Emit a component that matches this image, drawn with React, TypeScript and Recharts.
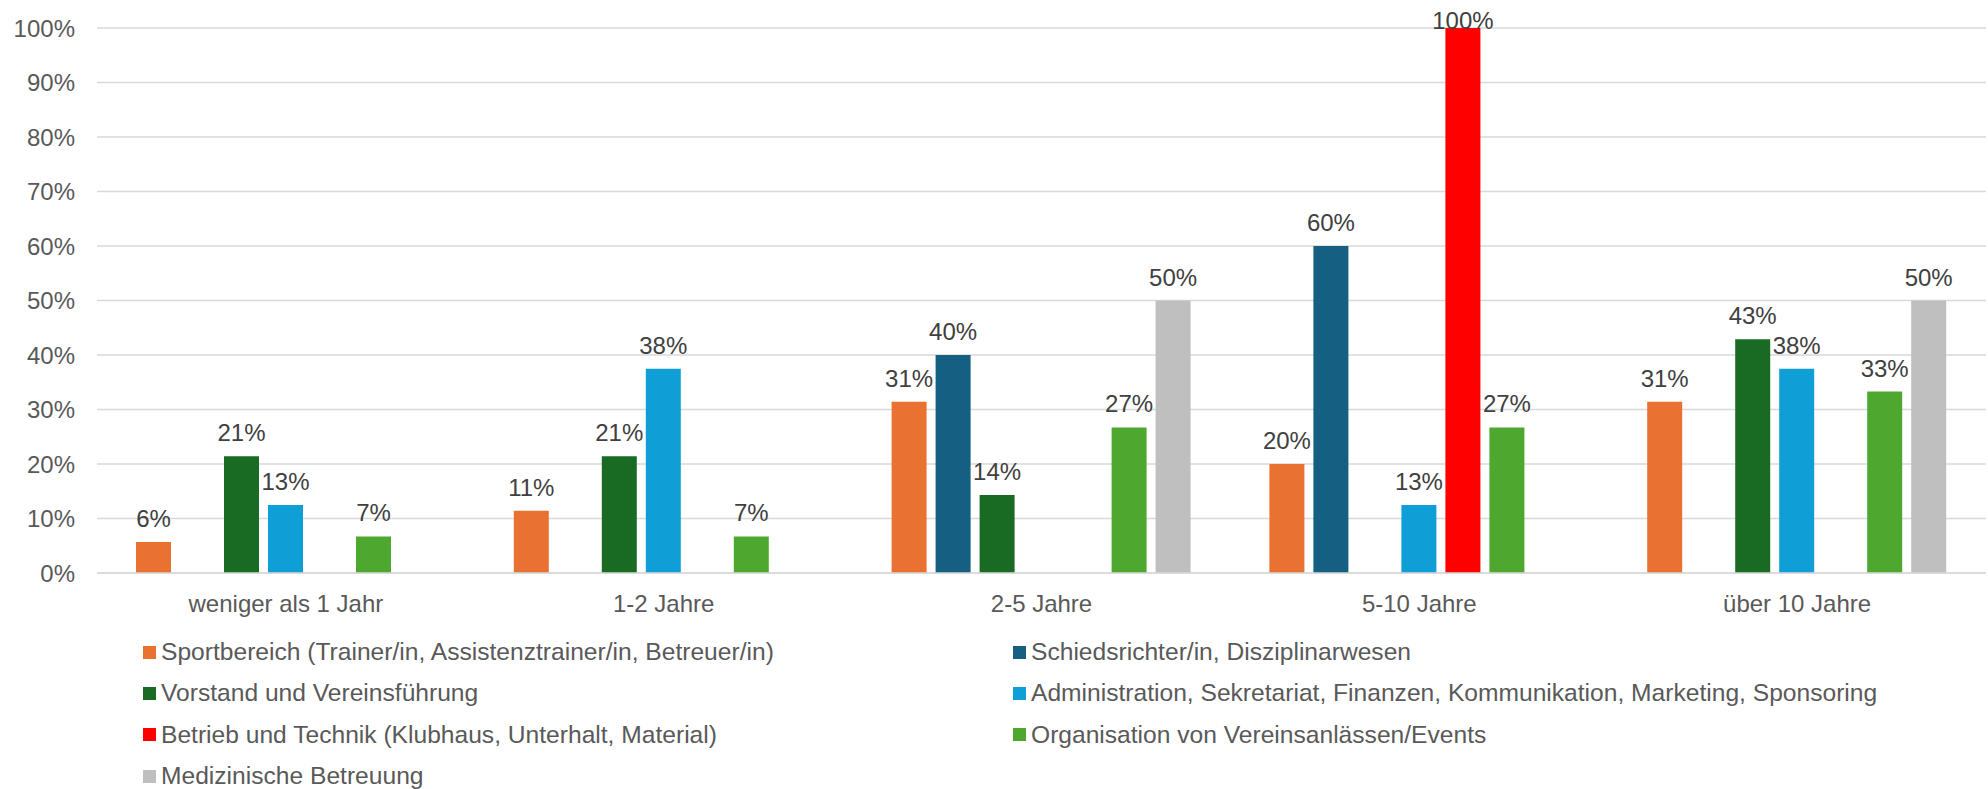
import React from 'react';
import { BarChart, Bar, XAxis, YAxis, CartesianGrid, LabelList } from 'recharts';

const categories = ['weniger als 1 Jahr', '1-2 Jahre', '2-5 Jahre', '5-10 Jahre', 'über 10 Jahre'];

const seriesNames = [
  'Sportbereich (Trainer/in, Assistenztrainer/in, Betreuer/in)',
  'Schiedsrichter/in, Disziplinarwesen',
  'Vorstand und Vereinsführung',
  'Administration, Sekretariat, Finanzen, Kommunikation, Marketing, Sponsoring',
  'Betrieb und Technik (Klubhaus, Unterhalt, Material)',
  'Organisation von Vereinsanlässen/Events',
  'Medizinische Betreuung',
];

const seriesColors = ['#E97132', '#156082', '#196B24', '#0F9ED5', '#FF0000', '#4EA72E', '#BFBFBF'];

// one value per category, null = no bar
const sportbereich = [0.057, 0.114, 0.314, 0.2, 0.314];
const schiedsrichter = [null, null, 0.4, 0.6, null];
const vorstand = [0.214, 0.214, 0.143, null, 0.429];
const administration = [0.125, 0.375, null, 0.125, 0.375];
const betrieb = [null, null, null, 1.0, null];
const organisation = [0.067, 0.067, 0.267, 0.267, 0.333];
const medizin = [null, null, 0.5, null, 0.5];

const yTicks = [0, 0.1, 0.2, 0.3, 0.4, 0.5, 0.6, 0.7, 0.8, 0.9, 1];

const seriesValues = [sportbereich, schiedsrichter, vorstand, administration, betrieb, organisation, medizin];
const seriesKeys = ['s0', 's1', 's2', 's3', 's4', 's5', 's6'];

const data = categories.map((name, i) => {
  const row: Record<string, string | number | null> = { name };
  seriesKeys.forEach((k, s) => {
    row[k] = seriesValues[s][i];
  });
  return row;
});

const FONT = '"Liberation Sans", Arial, sans-serif';

const pct = (v: number) => `${Math.round(v * 100)}%`;

const renderLabel = (props: any) => {
  const { x, y, width, value } = props;
  if (value == null) return null;
  // keep labels inside the chart like Excel does
  const by = Math.max(Number(y) - 15, 29);
  return (
    <text x={Number(x) + Number(width) / 2} y={by} textAnchor="middle" fill="#404040" fontSize={24} fontFamily={FONT}>
      {pct(Number(value))}
    </text>
  );
};

export default function App() {
  return (
    <div style={{ position: 'absolute', left: 0, top: 0, width: 1988, height: 789, background: '#fff', fontFamily: FONT }}>
      <BarChart
        width={1988}
        height={789}
        data={data}
        margin={{ top: 28, right: 2, bottom: 156, left: 0 }}
        barSize={35}
        barGap={9}
      >
        <CartesianGrid vertical={false} stroke="#d9d9d9" strokeWidth={1.3} />
        <XAxis
          dataKey="name"
          height={60}
          tickLine={false}
          tickSize={0}
          tickMargin={22}
          axisLine={{ stroke: '#d9d9d9', strokeWidth: 1.3 }}
          tick={{ fill: '#595959', fontSize: 24, fontFamily: FONT }}
          interval={0}
        />
        <YAxis
          width={97}
          domain={[0, 1]}
          ticks={yTicks}
          tickFormatter={pct}
          axisLine={false}
          tickLine={false}
          tickSize={0}
          tickMargin={22}
          tick={{ fill: '#595959', fontSize: 24, fontFamily: FONT }}
        />
        {seriesKeys.map((k, s) => (
          <Bar key={k} dataKey={k} name={seriesNames[s]} fill={seriesColors[s]} isAnimationActive={false}>
            <LabelList dataKey={k} content={renderLabel} />
          </Bar>
        ))}
      </BarChart>
      {seriesNames.map((n, s) => {
        const col = s % 2;
        const row = Math.floor(s / 2);
        return (
          <div
            key={n}
            style={{
              position: 'absolute',
              left: col === 0 ? 143 : 1013,
              top: 652 + row * 41.4 - 15,
              height: 30,
              display: 'flex',
              alignItems: 'center',
              whiteSpace: 'nowrap',
              fontSize: 24.6,
              color: '#595959',
            }}
          >
            <span style={{ display: 'inline-block', width: 13, height: 13, background: seriesColors[s], marginRight: 5 }} />
            <span>{n}</span>
          </div>
        );
      })}
    </div>
  );
}
